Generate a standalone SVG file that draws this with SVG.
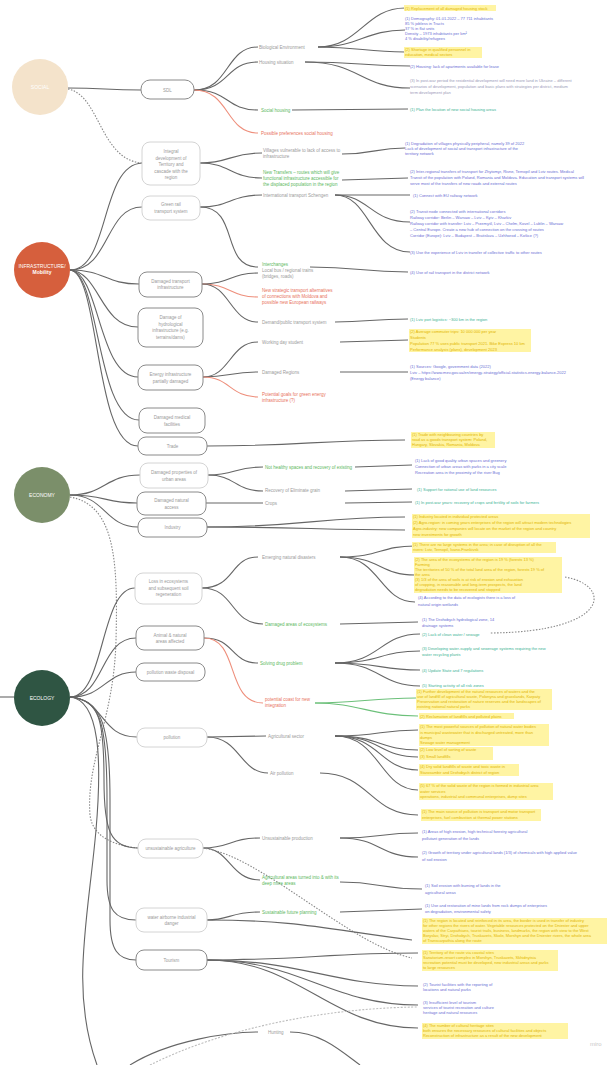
<svg xmlns="http://www.w3.org/2000/svg" width="607" height="1065" viewBox="0 0 607 1065">
<style>
.bg{fill:#fff}
.n rect{fill:#fff;stroke:#8a8a8a;stroke-width:1}
.n.l rect{stroke:#d4d4d4}
.nt{font-family:"Liberation Sans",Arial,sans-serif;font-size:4.5px;fill:#999;text-anchor:middle}
.ct{font-family:"Liberation Sans",Arial,sans-serif;font-size:5px;fill:#fff;text-anchor:middle}
.l3{font-family:"Liberation Sans",Arial,sans-serif;font-size:4.5px;fill:#9a9a9a}
.gr{fill:#5cb860}
.rd{fill:#e8725c}
.t4{font-family:"Liberation Sans",Arial,sans-serif;font-size:4px}
.b{fill:#6a6ed4}
.y{fill:#e2b400}
.t{fill:#3cb394}
.gy{fill:#9a9ab8}
.hl{fill:#fff4a3}
.c{fill:none;stroke:#666;stroke-width:1.1}
.cr{stroke:#ee8f7c}
.cg{stroke:#6cc07a}
.cd{stroke:#888;stroke-dasharray:1.5 1.5}
.cl{stroke:#bdbdbd;stroke-dasharray:2 1.5}
</style>
<rect class="bg" x="0" y="0" width="607" height="1065"/>

<g id="connectors">
<path class="c" d="M68,88 C105,88 105,90 141,90"/>
<path class="c cd" d="M68,89 C100,95 100,160 142,163"/>
<path class="c" d="M70,270 C110,270 100,165 142,163"/>
<path class="c" d="M70,270 C110,270 105,207 142,207"/>
<path class="c" d="M70,270 C105,270 105,284 139,284"/>
<path class="c" d="M70,270 C100,272 100,327 138,327"/>
<path class="c" d="M70,270 C100,272 98,377 138,377"/>
<path class="c" d="M70,270 C100,272 96,420 139,420"/>
<path class="c" d="M70,270 C100,272 94,446 138,446"/>
<path class="c" d="M70,495 C105,495 105,475 140,475"/>
<path class="c" d="M70,495 C105,495 105,503 137,503"/>
<path class="c" d="M70,495 C105,495 105,527 138,527"/>
<path class="c cd" d="M70,497 C115,505 118,560 116,640 C114,720 86,760 90,815 C93,840 120,846 138,848"/>
<path class="c" d="M0,697 L14,697"/>
<path class="c" d="M70,697 C105,697 100,588 135,588"/>
<path class="c" d="M70,697 C105,697 100,638 136,638"/>
<path class="c" d="M70,697 C105,697 105,672 136,672"/>
<path class="c" d="M70,697 C105,700 100,737 137,737"/>
<path class="c" d="M70,697 C100,700 104,720 104,780 C104,830 110,848 138,848"/>
<path class="c" d="M70,697 C100,700 107,720 107,800 L107,880 C107,910 115,920 136,920"/>
<path class="c" d="M70,697 C100,700 110,720 110,800 L110,920 C110,950 118,960 136,960"/>
<path class="c" d="M70,697 C100,700 102,760 96,830 C88,920 70,990 97,1065"/>
<path class="c" d="M194,90 C230,90 225,47 258,47"/>
<path class="c" d="M194,90 C230,90 225,62 258,62"/>
<path class="c" d="M194,90 C230,90 225,110 258,110"/>
<path class="c cr" d="M194,90 C230,90 225,133 258,133"/>
<path class="c" d="M200,163 C230,163 230,153 262,153"/>
<path class="c" d="M200,163 C230,163 230,178 262,178"/>
<path class="c" d="M200,207 C230,207 230,195 262,195"/>
<path class="c" d="M200,207 C240,207 220,267 258,267"/>
<path class="c" d="M202,284 C230,284 230,273 258,273"/>
<path class="c cr" d="M202,284 C230,284 230,297 258,297"/>
<path class="c" d="M202,284 C230,284 230,322 258,322"/>
<path class="c" d="M203,377 C230,377 230,342 258,342"/>
<path class="c" d="M203,377 C230,377 230,372 258,372"/>
<path class="c cr" d="M203,377 C230,377 230,397 258,397"/>
<path class="c" d="M207,446 C300,446 320,440 405,440"/>
<path class="c" d="M208,475 C235,475 235,467 263,467"/>
<path class="c" d="M208,475 C235,475 235,491 263,491"/>
<path class="c" d="M206,503 L263,503"/>
<path class="c" d="M207,527 C300,527 320,517 405,517"/>
<path class="c" d="M207,527 C300,527 320,530 405,530"/>
<path class="c" d="M202,588 C235,588 230,557 258,557"/>
<path class="c" d="M202,588 C235,588 230,624 263,624"/>
<path class="c" d="M204,638 C235,638 230,663 258,663"/>
<path class="c cr" d="M204,638 C240,638 225,703 263,703"/>
<path class="c" d="M207,737 L266,736"/>
<path class="c" d="M207,737 C240,737 240,773 268,773"/>
<path class="c" d="M203,848 C230,848 230,838 260,838"/>
<path class="c" d="M203,848 C230,848 230,880 260,880"/>
<path class="c cd" d="M203,848 C260,855 350,945 412,958"/>
<path class="c" d="M207,920 C230,920 230,912 260,912"/>
<path class="c" d="M207,920 C300,920 330,930 412,940"/>
<path class="c" d="M207,960 C300,960 330,953 418,953"/>
<path class="c" d="M207,960 C300,960 330,985 418,986"/>
<path class="c" d="M207,960 C300,960 330,1005 418,1005"/>
<path class="c" d="M207,960 C300,960 330,1028 418,1028"/>
<path class="c" d="M130,1065 C170,1040 230,1032 258,1032"/>
<path class="c" d="M290,1032 C320,1032 340,1050 360,1065"/>
<path class="c cl" d="M150,1065 C220,1030 320,1008 418,1007"/>
<path class="c" d="M318,47 C360,47 365,8 405,8"/>
<path class="c" d="M318,47 C360,47 365,30 405,30"/>
<path class="c" d="M318,47 C360,47 365,52 405,52"/>
<path class="c" d="M305,62 C360,62 360,66 410,66"/>
<path class="c" d="M305,62 C360,62 360,88 410,88"/>
<path class="c" d="M292,110 L408,109"/>
<path class="c" d="M342,154 C375,154 375,148 405,148"/>
<path class="c" d="M342,180 L408,178"/>
<path class="c" d="M335,195 L410,195"/>
<path class="c" d="M335,195 C370,195 370,222 410,222"/>
<path class="c" d="M335,195 C370,195 370,252 410,252"/>
<path class="c" d="M310,267 C360,267 360,272 408,272"/>
<path class="c" d="M335,322 C370,322 370,319 408,319"/>
<path class="c" d="M340,342 L408,340"/>
<path class="c" d="M340,372 L408,372"/>
<path class="c" d="M355,467 L412,465"/>
<path class="c" d="M345,491 L412,489"/>
<path class="c" d="M345,503 L412,502"/>
<path class="c" d="M340,557 C380,557 380,546 415,546"/>
<path class="c" d="M340,557 C380,557 380,575 415,575"/>
<path class="c" d="M340,557 C380,557 380,602 415,602"/>
<path class="c" d="M340,624 L418,622"/>
<path class="c" d="M335,663 C380,663 380,634 420,634"/>
<path class="c" d="M335,663 C380,663 380,651 420,651"/>
<path class="c" d="M335,663 C380,663 380,670 420,670"/>
<path class="c" d="M335,663 C380,663 380,686 420,686"/>
<path class="c cg" d="M315,703 C360,703 370,698 416,698"/>
<path class="c cg" d="M315,703 C360,703 370,716 418,716"/>
<path class="c" d="M335,736 C380,736 380,730 418,730"/>
<path class="c" d="M335,736 C380,736 380,750 418,750"/>
<path class="c" d="M335,736 C380,736 380,757 418,757"/>
<path class="c" d="M335,736 C380,736 380,770 418,770"/>
<path class="c" d="M335,736 C380,736 380,790 418,790"/>
<path class="c" d="M320,773 C370,773 370,815 418,815"/>
<path class="c" d="M340,838 C380,838 380,833 418,833"/>
<path class="c" d="M340,838 C380,838 380,857 418,857"/>
<path class="c" d="M340,882 C380,882 380,889 422,889"/>
<path class="c" d="M340,912 L422,909"/>
<path class="c cd" d="M565,577 C612,585 612,632 490,633"/>
</g>

<g id="social"><circle cx="40" cy="87" r="28" fill="#f4e3cb"/><text class="ct" x="40" y="89">SOCIAL</text></g>
<g id="infrastructure"><circle cx="42" cy="270" r="28" fill="#d65f3d"/><text class="ct" x="42" y="268">INFRASTRUCTURE/</text><text class="ct" x="42" y="274" font-weight="bold">Mobility</text></g>
<g id="economy"><circle cx="42" cy="495" r="28" fill="#7b8f6a"/><text class="ct" x="42" y="497">ECONOMY</text></g>
<g id="ecology"><circle cx="42" cy="698" r="28" fill="#2f5543"/><text class="ct" x="42" y="700">ECOLOGY</text></g>

<g id="n-sdl" class="n"><rect x="141" y="80" width="53" height="19" rx="9"/><text class="nt" x="167.5" y="91.5">SDL</text></g>
<g id="n-integral" class="n l"><rect x="142" y="142" width="58" height="43" rx="8"/><text class="nt"><tspan x="171" y="153">Integral</tspan><tspan x="171" y="159.5">development of</tspan><tspan x="171" y="166">Territory and</tspan><tspan x="171" y="172.5">cascade with the</tspan><tspan x="171" y="179">region</tspan></text></g>
<g id="n-greenrail" class="n l"><rect x="142" y="196" width="58" height="24" rx="8"/><text class="nt"><tspan x="171" y="206">Green rail</tspan><tspan x="171" y="212.5">transport system</tspan></text></g>
<g id="n-transport" class="n"><rect x="139" y="272" width="63" height="25" rx="8"/><text class="nt"><tspan x="170.5" y="282.5">Damaged transport</tspan><tspan x="170.5" y="289">infrastructure</tspan></text></g>
<g id="n-hydro" class="n"><rect x="138" y="308" width="65" height="39" rx="8"/><text class="nt"><tspan x="170.5" y="319">Damage of</tspan><tspan x="170.5" y="325.5">hydrological</tspan><tspan x="170.5" y="332">infrastructure (e.g.</tspan><tspan x="170.5" y="338.5">terrains/dams)</tspan></text></g>
<g id="n-energy" class="n"><rect x="138" y="365" width="65" height="25" rx="8"/><text class="nt"><tspan x="170.5" y="376">Energy infrastructure</tspan><tspan x="170.5" y="382.5">partially damaged</tspan></text></g>
<g id="n-medical" class="n"><rect x="139" y="408" width="66" height="25" rx="8"/><text class="nt"><tspan x="172" y="419">Damaged medical</tspan><tspan x="172" y="425.5">facilities</tspan></text></g>
<g id="n-trade" class="n"><rect x="138" y="437" width="69" height="18" rx="8"/><text class="nt" x="172.5" y="447.5">Trade</text></g>
<g id="n-properties" class="n l"><rect x="140" y="463" width="68" height="25" rx="8"/><text class="nt"><tspan x="174" y="474">Damaged properties of</tspan><tspan x="174" y="480.5">urban areas</tspan></text></g>
<g id="n-natural" class="n"><rect x="137" y="492" width="69" height="23" rx="8"/><text class="nt"><tspan x="171.5" y="502">Damaged natural</tspan><tspan x="171.5" y="508.5">access</tspan></text></g>
<g id="n-industry" class="n"><rect x="138" y="518" width="69" height="19" rx="8"/><text class="nt" x="172.5" y="529">Industry</text></g>
<g id="n-loss" class="n l"><rect x="135" y="573" width="67" height="31" rx="8"/><text class="nt"><tspan x="168.5" y="583">Loss in ecosystems</tspan><tspan x="168.5" y="589.5">and subsequent soil</tspan><tspan x="168.5" y="596">regeneration</tspan></text></g>
<g id="n-animal" class="n"><rect x="136" y="626" width="68" height="24" rx="8"/><text class="nt"><tspan x="170" y="636.5">Animal &amp; natural</tspan><tspan x="170" y="643">areas affected</tspan></text></g>
<g id="n-waste" class="n"><rect x="136" y="663" width="69" height="18" rx="8"/><text class="nt" x="170.5" y="673.5">pollution waste disposal</text></g>
<g id="n-pollution" class="n l"><rect x="137" y="728" width="70" height="19" rx="8"/><text class="nt" x="172" y="739">pollution</text></g>
<g id="n-agri" class="n l"><rect x="138" y="839" width="65" height="19" rx="8"/><text class="nt" x="170.5" y="850">unsustainable agriculture</text></g>
<g id="n-water" class="n l"><rect x="136" y="908" width="71" height="24" rx="8"/><text class="nt"><tspan x="171.5" y="918.5">water airborne industrial</tspan><tspan x="171.5" y="925">danger</tspan></text></g>
<g id="n-tourism" class="n"><rect x="136" y="950" width="71" height="20" rx="8"/><text class="nt" x="171.5" y="961.5">Tourism</text></g>

<g id="level3">
<text class="l3" x="259" y="48.5">Biological Environment</text>
<text class="l3" x="259" y="63.5">Housing situation</text>
<text class="l3 gr" x="261" y="111.5">Social housing</text>
<text class="l3 rd" x="261" y="134.5">Possible preferences social housing</text>
<text class="l3"><tspan x="263" y="152">Villages vulnerable to lack of access to</tspan><tspan x="263" y="158">infrastructure</tspan></text>
<text class="l3 gr"><tspan x="263" y="174">New Transfers – routes which will give</tspan><tspan x="263" y="180">functional infrastructure accessible for</tspan><tspan x="263" y="186">the displaced population in the region</tspan></text>
<text class="l3" x="263" y="196.5">International transport Schengen</text>
<text class="l3"><tspan x="262" y="266" class="gr">Interchanges</tspan><tspan x="262" y="272">Local bus / regional trains</tspan><tspan x="262" y="278">(bridges, roads)</tspan></text>
<text class="l3 rd"><tspan x="262" y="292">New strategic transport alternatives</tspan><tspan x="262" y="298">of connections with Moldova and</tspan><tspan x="262" y="304">possible new European railways</tspan></text>
<text class="l3" x="262" y="323.5">Demand/public transport system</text>
<text class="l3" x="262" y="343.5">Working day student</text>
<text class="l3" x="262" y="373.5">Damaged Regions</text>
<text class="l3 rd"><tspan x="262" y="396">Potential goals for green energy</tspan><tspan x="262" y="402">infrastructure (?)</tspan></text>
<text class="l3 gr" x="265" y="468.5">Not healthy spaces and recovery of existing</text>
<text class="l3" x="265" y="492">Recovery of Eliminate grain</text>
<text class="l3" x="265" y="504.5">Crops</text>
<text class="l3" x="262" y="558.5">Emerging natural disasters</text>
<text class="l3 gr" x="265" y="625.5">Damaged areas of ecosystems</text>
<text class="l3 gr" x="260" y="664.5">Solving drug problem</text>
<text class="l3 rd"><tspan x="265" y="701">potential coast for new</tspan><tspan x="265" y="707">integration</tspan></text>
<text class="l3" x="268" y="738">Agricultural sector</text>
<text class="l3" x="270" y="775">Air pollution</text>
<text class="l3" x="262" y="839.5">Unsustainable production</text>
<text class="l3 gr"><tspan x="262" y="879">Agricultural areas turned into &amp; with its</tspan><tspan x="262" y="885">deep mine areas</tspan></text>
<text class="l3 gr" x="262" y="913.5">Sustainable future planning</text>
<text class="l3" x="268" y="1034">Hunting</text>
</g>

<g id="highlights">
<rect class="hl" x="404" y="5" width="92" height="6"/>
<rect class="hl" x="404" y="47" width="78" height="11"/>
<rect class="hl" x="409" y="329" width="122" height="23"/>
<rect class="hl" x="411" y="432" width="84" height="16"/>
<rect class="hl" x="412" y="514" width="178" height="24"/>
<rect class="hl" x="412" y="542" width="144" height="11"/>
<rect class="hl" x="414" y="557" width="148" height="36"/>
<rect class="hl" x="416" y="689" width="136" height="21"/>
<rect class="hl" x="419" y="713" width="95" height="6"/>
<rect class="hl" x="419" y="724" width="130" height="22"/>
<rect class="hl" x="419" y="747" width="74" height="13"/>
<rect class="hl" x="419" y="764" width="100" height="12"/>
<rect class="hl" x="419" y="783" width="134" height="17"/>
<rect class="hl" x="421" y="809" width="120" height="12"/>
<rect class="hl" x="422" y="918" width="185" height="26"/>
<rect class="hl" x="422" y="950" width="136" height="21"/>
<rect class="hl" x="422" y="1023" width="146" height="16"/>
</g>

<g id="level4">
<text class="t4 y" x="405" y="9.5">(1) Replacement of all damaged housing stock</text>
<text class="t4 b"><tspan x="405" y="20">(1) Demography: 01.01.2022 – 77 711 inhabitants</tspan><tspan x="405" y="25">85 % jobless in Tracts</tspan><tspan x="405" y="30">37 % in flat units</tspan><tspan x="405" y="35">Density – 1973 inhabitants per km²</tspan><tspan x="405" y="40">4 % disability/refugees</tspan></text>
<text class="t4 y"><tspan x="405" y="51">(2) Shortage in qualified personnel in</tspan><tspan x="405" y="56">education, medical sectors</tspan></text>
<text class="t4 b" x="410" y="67.5">(2) Housing: lack of apartments available for lease</text>
<text class="t4 gy"><tspan x="410" y="82">(3) In post-war period the residential development will need more land in Ukraine – different</tspan><tspan x="410" y="88">scenarios of development, population and basic plans with strategies per district, medium</tspan><tspan x="410" y="94">term development plan</tspan></text>
<text class="t4 t" x="410" y="110.5">(1) Plan the location of new social housing areas</text>
<text class="t4 b"><tspan x="405" y="145">(1) Degradation of villages physically peripheral, namely 39 of 2022</tspan><tspan x="405" y="150">Lack of development of social and transport infrastructure of the</tspan><tspan x="405" y="155">territory network</tspan></text>
<text class="t4 b"><tspan x="410" y="173">(2) Inter-regional transfers of transport for Zhytomyr, Rivne, Ternopil and Lviv routes. Medical</tspan><tspan x="410" y="179">Transit of the population with Poland, Romania and Moldova. Education and transport systems will</tspan><tspan x="410" y="185">serve most of the transfers of new roads and external routes</tspan></text>
<text class="t4 b" x="413" y="196.5">(1) Connect with EU railway network</text>
<text class="t4 b"><tspan x="410" y="213">(2) Transit node connected with international corridors</tspan><tspan x="410" y="219">Railway corridor: Berlin – Warsaw – Lviv – Kyiv – Kharkiv</tspan><tspan x="410" y="225">Railway corridor with transfer: Lviv – Przemyśl, Lviv – Chelm, Kovel – Lublin – Warsaw</tspan><tspan x="410" y="231">– Central Europe. Create a new hub of connection on the crossing of routes</tspan><tspan x="410" y="237">Corridor (Europe): Lviv – Budapest – Bratislava – Uzhhorod – Košice (?)</tspan></text>
<text class="t4 b" x="410" y="253.5">(3) Use the experience of Lviv in transfer of collective traffic to other routes</text>
<text class="t4 b" x="410" y="273.5">(4) Use of rail transport in the district network</text>
<text class="t4 t" x="410" y="320.5">(1) Lviv port logistics: ~300 km in the region</text>
<text class="t4 y"><tspan x="410" y="333">(2) Average commuter trips: 10 000 000 per year</tspan><tspan x="410" y="339">Students</tspan><tspan x="410" y="345">Population 77 % uses public transport 2021. Bike Express 10 km</tspan><tspan x="410" y="351">Performance analysis (plans), development 2023</tspan></text>
<text class="t4 b"><tspan x="410" y="368">(1) Sources: Google, government data (2022)</tspan><tspan x="410" y="374">Lviv – https://www.mev.gov.ua/en/energy-strategy/official-statistics-energy-balance-2022</tspan><tspan x="410" y="380">(Energy balance)</tspan></text>
<text class="t4 y"><tspan x="412" y="436">(1) Trade with neighbouring countries by</tspan><tspan x="412" y="441">road as a goods transport system: Poland,</tspan><tspan x="412" y="446">Hungary, Slovakia, Romania, Moldova</tspan></text>
<text class="t4 b"><tspan x="415" y="462">(1) Lack of good quality urban spaces and greenery</tspan><tspan x="415" y="468">Connection of urban areas with parks in a city scale</tspan><tspan x="415" y="474">Recreation area in the proximity of the river Bug</tspan></text>
<text class="t4 t" x="417" y="490.5">(1) Support for rational use of land resources</text>
<text class="t4 t" x="415" y="503.5">(1) In post-war years: recovery of crops and fertility of soils for farmers</text>
<text class="t4 y"><tspan x="413" y="518">(1) Industry located in individual protected areas</tspan><tspan x="413" y="524">(2) Agro-region: in coming years enterprises of the region will attract modern technologies</tspan><tspan x="413" y="530">Agro-industry: new companies will locate on the market of the region and country</tspan><tspan x="413" y="536">new investments for growth</tspan></text>
<text class="t4 y"><tspan x="413" y="546">(1) There are no large systems in the area; in case of disruption of all the</tspan><tspan x="413" y="551">rivers: Lviv, Ternopil, Ivano-Frankivsk</tspan></text>
<text class="t4 y"><tspan x="415" y="561">(2) The area of the ecosystems of the region is 19 % (forests 13 %)</tspan><tspan x="415" y="566">Farming</tspan><tspan x="415" y="571">The territories of 50 % of the total land area of the region, forests 19 % of</tspan><tspan x="415" y="576">the area</tspan><tspan x="415" y="581">(3) 1/3 of the area of soils is at risk of erosion and exhaustion</tspan><tspan x="415" y="586">of cropping, in reasonable and long-term prospects, the land</tspan><tspan x="415" y="591">degradation needs to be recovered and stopped</tspan></text>
<text class="t4 b"><tspan x="418" y="599">(4) According to the data of ecologists there is a loss of</tspan><tspan x="418" y="606">natural origin wetlands</tspan></text>
<text class="t4 b"><tspan x="422" y="621">(1) The Drohobych hydrological zone, 14</tspan><tspan x="422" y="627">drainage systems</tspan></text>
<text class="t4 t" x="422" y="635.5">(2) Lack of clean water / sewage</text>
<text class="t4 t"><tspan x="422" y="650">(3) Developing water-supply and sewerage systems requiring the new</tspan><tspan x="422" y="656">water recycling plants</tspan></text>
<text class="t4 t" x="422" y="671.5">(4) Update State and 7 regulations</text>
<text class="t4 t" x="422" y="686.5">(5) Starting activity of all risk zones</text>
<text class="t4 y"><tspan x="417" y="693">(1) Further development of the natural resources of waters and the</tspan><tspan x="417" y="698">use of landfill of agricultural waste, Polonyna and grasslands, Karpaty</tspan><tspan x="417" y="703">Preservation and restoration of nature reserves and the landscapes of</tspan><tspan x="417" y="708">existing national natural parks</tspan></text>
<text class="t4 y" x="420" y="717.5">(2) Reclamation of landfills and polluted plains</text>
<text class="t4 y"><tspan x="420" y="728">(1) The most powerful sources of pollution of natural water bodies</tspan><tspan x="420" y="734">is municipal wastewater that is discharged untreated, more than</tspan><tspan x="420" y="739">dumps</tspan><tspan x="420" y="744">Sewage water management</tspan></text>
<text class="t4 y"><tspan x="420" y="751">(2) Low level of sorting of waste</tspan><tspan x="420" y="758">(3) Small landfills</tspan></text>
<text class="t4 y"><tspan x="420" y="768">(4) Dry solid landfills of waste and toxic waste in</tspan><tspan x="420" y="774">Starosambir and Drohobych district of region</tspan></text>
<text class="t4 y"><tspan x="420" y="787">(5) 67 % of the solid waste of the region is formed in industrial area</tspan><tspan x="420" y="793">water services</tspan><tspan x="420" y="798">operations, industrial and communal enterprises, dump sites</tspan></text>
<text class="t4 y"><tspan x="422" y="813">(1) The main source of pollution is transport and motor transport</tspan><tspan x="422" y="819">enterprises, fuel combustion at thermal power stations</tspan></text>
<text class="t4 b"><tspan x="422" y="833">(1) Areas of high erosion, high technical forestry agricultural</tspan><tspan x="422" y="840">pollutant generation of the lands</tspan></text>
<text class="t4 b"><tspan x="422" y="854">(2) Growth of territory under agricultural lands (1/3) of chemicals with high applied value</tspan><tspan x="422" y="861">of soil erosion</tspan></text>
<text class="t4 b"><tspan x="425" y="887">(1) Soil erosion with burning of lands in the</tspan><tspan x="425" y="894">agricultural areas</tspan></text>
<text class="t4 b"><tspan x="425" y="907">(1) Use and restoration of mine lands from rock dumps of enterprises</tspan><tspan x="425" y="913">on degradation, environmental safety</tspan></text>
<text class="t4 y"><tspan x="423" y="922">(1) The region is located and reinforced in its area, the border is used in transfer of industry</tspan><tspan x="423" y="927">for other regions the rivers of water. Vegetable resources protected on the Dniester and upper</tspan><tspan x="423" y="932">waters of the Carpathians, tourist trails, business, landmarks, the region with view to the West</tspan><tspan x="423" y="937">Boryslav, Stryi, Drohobych, Truskavets, Skole, Morshyn and the Dniester rivers, the whole area</tspan><tspan x="423" y="942">of Transcarpathia along the route</tspan></text>
<text class="t4 y"><tspan x="423" y="954">(1) Territory of the route via coastal sites</tspan><tspan x="423" y="959">Sanatorium-resort complex in Morshyn, Truskavets, Skhidnytsia</tspan><tspan x="423" y="964">recreation potential must be developed, new industrial areas and parks</tspan><tspan x="423" y="969">to large resources</tspan></text>
<text class="t4 b"><tspan x="423" y="986">(2) Tourist facilities with the reporting of</tspan><tspan x="423" y="991">locations and natural parks</tspan></text>
<text class="t4 b"><tspan x="423" y="1004">(3) Insufficient level of tourism</tspan><tspan x="423" y="1009">services of tourist recreation and culture</tspan><tspan x="423" y="1014">heritage and natural resources</tspan></text>
<text class="t4 y"><tspan x="423" y="1027">(4) The number of cultural heritage sites</tspan><tspan x="423" y="1032">both ensures the necessary resources of cultural facilities and objects</tspan><tspan x="423" y="1037">Reconstruction of infrastructure as a result of the new development</tspan></text>
<text x="590" y="1046" font-family="Liberation Sans, Arial, sans-serif" font-size="6" fill="#c8c8c8">miro</text>
</g>
</svg>
